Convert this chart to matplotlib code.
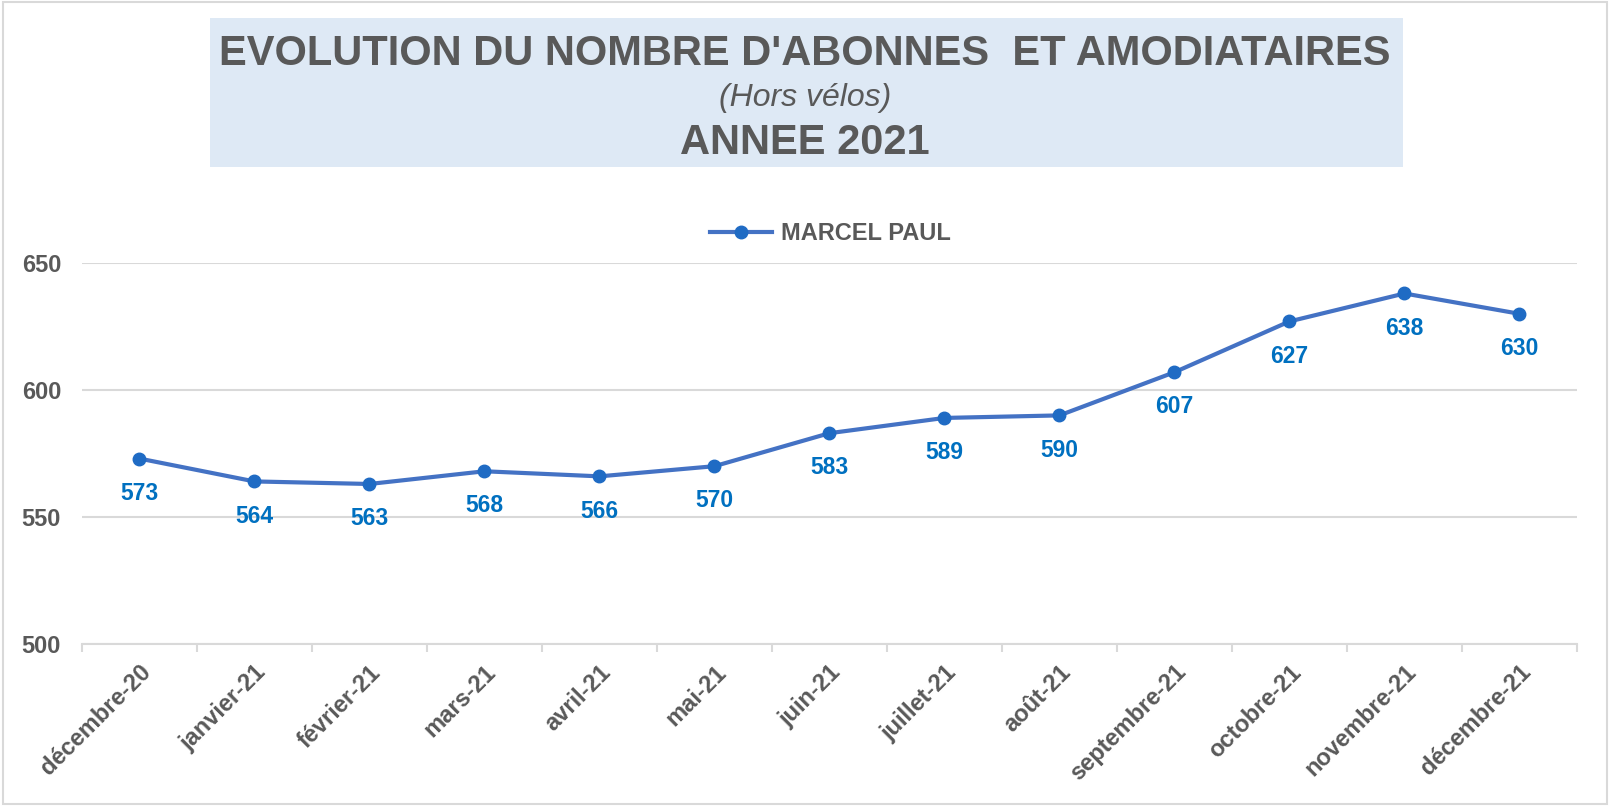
import matplotlib.pyplot as plt
from matplotlib.patches import Rectangle
import numpy as np

mois = ['décembre-20', 'janvier-21', 'février-21', 'mars-21', 'avril-21', 'mai-21', 'juin-21',
        'juillet-21', 'août-21', 'septembre-21', 'octobre-21', 'novembre-21', 'décembre-21']
marcel_paul = [573, 564, 563, 568, 566, 570, 583, 589, 590, 607, 627, 638, 630]
y_ticks = [500, 550, 600, 650]

GRIS = '#595959'
BLEU_LIGNE = '#4472C4'
BLEU_TXT = '#0070C0'
SANS = ['Liberation Sans', 'DejaVu Sans']

fig = plt.figure(figsize=(16.1, 8.06), dpi=100)
fig.patches.append(Rectangle((0.002, 0.002), 0.996, 0.996, transform=fig.transFigure,
                             fill=False, edgecolor='#D9D9D9', linewidth=1.5))

# title box
fig.patches.append(Rectangle((0.1304, 0.7928), 0.741, 0.185, transform=fig.transFigure,
                             facecolor='#DEE9F5', edgecolor='none'))
fig.text(0.5, 0.933, "EVOLUTION DU NOMBRE D'ABONNES  ET AMODIATAIRES", ha='center', va='center',
         fontsize=30, fontweight='bold', color=GRIS, family=SANS)
fig.text(0.5, 0.879, "(Hors vélos)", ha='center', va='center',
         fontsize=23, fontstyle='italic', color=GRIS, family=SANS)
fig.text(0.5, 0.822, "ANNEE 2021", ha='center', va='center',
         fontsize=30, fontweight='bold', color=GRIS, family=SANS)

ax = fig.add_axes([0.0509, 0.201, 0.9286, 0.4727])
x = np.arange(len(mois))
ax.plot(x, marcel_paul, color=BLEU_LIGNE, linewidth=3, marker='o', markersize=9,
        markerfacecolor='#1F6BC4', markeredgecolor='#1F6BC4', label='MARCEL PAUL', zorder=3)

for xi, v in zip(x, marcel_paul):
    ax.annotate(str(v), (xi, v), xytext=(0, -25), textcoords='offset points', ha='center',
                va='center', fontsize=16.5, fontweight='bold', color=BLEU_TXT, family=SANS)

ax.set_xlim(-0.5, len(mois) - 0.5)
ax.set_ylim(500, 650)
ax.set_yticks(y_ticks)
ax.set_yticklabels([str(t) for t in y_ticks], fontsize=17, fontweight='bold', color=GRIS, family=SANS)
ax.grid(axis='y', color='#D9D9D9', linewidth=1.5)
ax.set_axisbelow(True)
ax.tick_params(axis='y', length=0, pad=15)

ax.set_xticks(x)
ax.set_xticklabels(mois, rotation=45, ha='right', rotation_mode='anchor', fontsize=17,
                   fontweight='bold', color=GRIS, family=SANS)
ax.tick_params(axis='x', which='major', length=0, pad=12)
ax.set_xticks(np.arange(len(mois) + 1) - 0.5, minor=True)
ax.tick_params(axis='x', which='minor', length=6, color='#D9D9D9', width=1.5)

for s in ['top', 'right', 'left']:
    ax.spines[s].set_visible(False)
ax.spines['bottom'].set_color('#D9D9D9')
ax.spines['bottom'].set_linewidth(1.5)

leg = fig.legend(loc='center', bbox_to_anchor=(0.516, 0.71), frameon=False, handlelength=2.6,
                 handletextpad=0.4, prop={'family': SANS, 'weight': 'bold', 'size': 17})
for t in leg.get_texts():
    t.set_color(GRIS)

fig.savefig('out.png', dpi=100, facecolor='white')
